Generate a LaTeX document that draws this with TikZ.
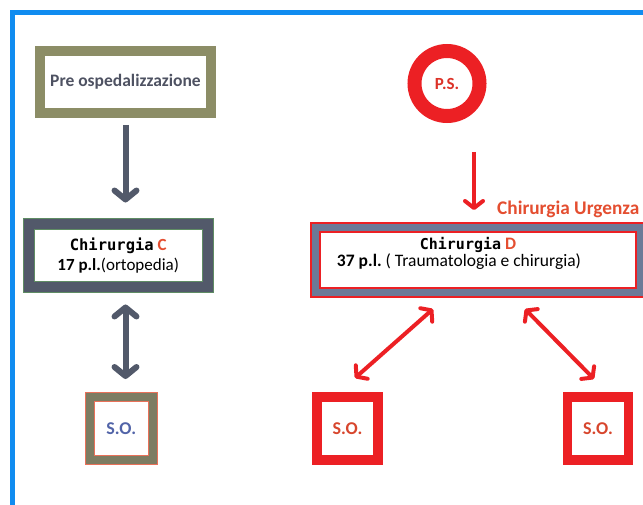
\documentclass[tikz,border=0pt]{standalone}
\usepackage{fontspec}
\setmainfont{Carlito}
\newfontfamily\chirfont{DejaVu Sans Mono}
\usepackage{tikz}
\usetikzlibrary{shapes,positioning,calc}
\usetikzlibrary{arrows.meta}
\frenchspacing
\definecolor{cornice}{RGB}{16,140,240}
\definecolor{oliva}{RGB}{140,141,102}
\definecolor{olivascuro}{RGB}{125,124,98}
\definecolor{ardesia}{RGB}{82,89,106}
\definecolor{verdino}{RGB}{95,140,100}
\definecolor{grigioblu}{RGB}{108,122,152}
\definecolor{rosso}{RGB}{236,32,36}
\definecolor{arancio}{RGB}{228,78,48}
\definecolor{bluso}{RGB}{82,100,168}
\definecolor{testogrigio}{RGB}{78,82,98}
\tikzstyle{freccia} = [line width=6pt,ardesia,-{Straight Barb[round,length=9pt,width=22pt]}]
\tikzstyle{doppia} = [line width=6pt,ardesia,{Straight Barb[round,length=9pt,width=22pt]}-{Straight Barb[round,length=9pt,width=22pt]}]
\tikzstyle{frecciarossa} = [line width=4pt,rosso,-{Straight Barb[round,length=7pt,width=18pt]}]
\tikzstyle{doppiarossa} = [line width=4pt,rosso,{Straight Barb[round,length=7pt,width=18pt]}-{Straight Barb[round,length=7pt,width=18pt]}]

\begin{document}
\begin{tikzpicture}[x=1pt,y=-1pt,
	reparto/.style={rectangle, inner sep=0pt, outer sep=0pt, align=center, minimum width=#1},
	sala/.style={rectangle, inner sep=0pt, outer sep=0pt, minimum width=62pt, minimum height=63pt, font=\bfseries\fontsize{18}{20}\selectfont}]
	\useasboundingbox (0,0) rectangle (643,505);
	
	% CORNICE
	
	\draw[line width=5pt, cornice] (643,12.5) -- (12.5,12.5) -- (12.5,505);
	
	% REPARTI
	
	\node [reparto=171pt, draw=oliva, line width=10pt, minimum height=62pt, text=testogrigio, font=\bfseries\fontsize{17.5}{19}\selectfont] (preosp) at (125.5,82) {Pre ospedalizzazione};
	
	\node [reparto=179.5pt, draw=verdino, double=ardesia, line width=1pt, double distance=10pt, minimum height=63pt, font=\fontsize{17}{20}\selectfont] (chirC) at (118.25,256)
	{%
		{\chirfont\bfseries\fontsize{15.5}{20}\selectfont Chirurgia} {\bfseries\color{arancio}C}\\
		\textbf{17 p.l.}(ortopedia)};
	
	\node [circle, inner sep=0pt, outer sep=0pt, draw=rosso, line width=14pt, minimum size=65pt, text={rgb,255:red,220;green,50;blue,40}, font=\bfseries\fontsize{17}{20}\selectfont] (ps) at (447,83.5) {P.S.};
	
	\node [reparto=325pt, draw=rosso, double=grigioblu, line width=2pt, double distance=7pt, minimum height=64.5pt] (chirD) at (478,260.25) {};
	\node [align=center, inner sep=0pt, font=\fontsize{17.5}{13}\selectfont] (chirDtesto) at (459,253)
	{%
		\hspace*{18pt}{\chirfont\bfseries\fontsize{15}{13}\selectfont Chirurgia} {\bfseries\color{arancio}D}\\
		\textbf{37 p.l.} ( Traumatologia e chirurgia)};
	\node [anchor=base west, inner sep=0pt, text=arancio, font=\bfseries\fontsize{19.3}{22}\selectfont] (urgenza) at (497,215) {Chirurgia Urgenza};
	
	% SALE OPERATORIE
	
	\node [sala, draw=arancio!80, double=olivascuro, line width=1pt, double distance=8pt, minimum width=62.5pt, text=bluso] (soC) at (121.25,428.5) {S.O.};
	\node [sala, draw=rosso, line width=9.5pt, minimum width=61.25pt, text={rgb,255:red,215;green,70;blue,45}] (soD1) at (347.5,428.5) {S.O.};
	\node [sala, draw=rosso, line width=9.5pt, minimum width=61.25pt, text={rgb,255:red,215;green,70;blue,45}] (soD2) at (598,428.5) {S.O.};
	
	% FRECCE
	
	\draw[freccia, shorten <=12pt, shorten >=22pt] (preosp.south) -- (preosp.south |- chirC.north);
	\draw[doppia, shorten <=17pt, shorten >=18pt] (preosp.south |- chirC.south) -- (preosp.south |- soC.north);
	\draw[frecciarossa, shorten <=36pt, shorten >=18pt] ([xshift=27pt]ps.south) -- ([xshift=27pt]ps.south |- chirD.north);
	\draw[doppiarossa] ([shift={(-45,16.5)}]chirD.south) -- ([shift={(7.5,-19)}]soD1.north);
	\draw[doppiarossa] ([shift={(47,16.5)}]chirD.south) -- ([shift={(-4,-18)}]soD2.north);
	
\end{tikzpicture}
\end{document}
